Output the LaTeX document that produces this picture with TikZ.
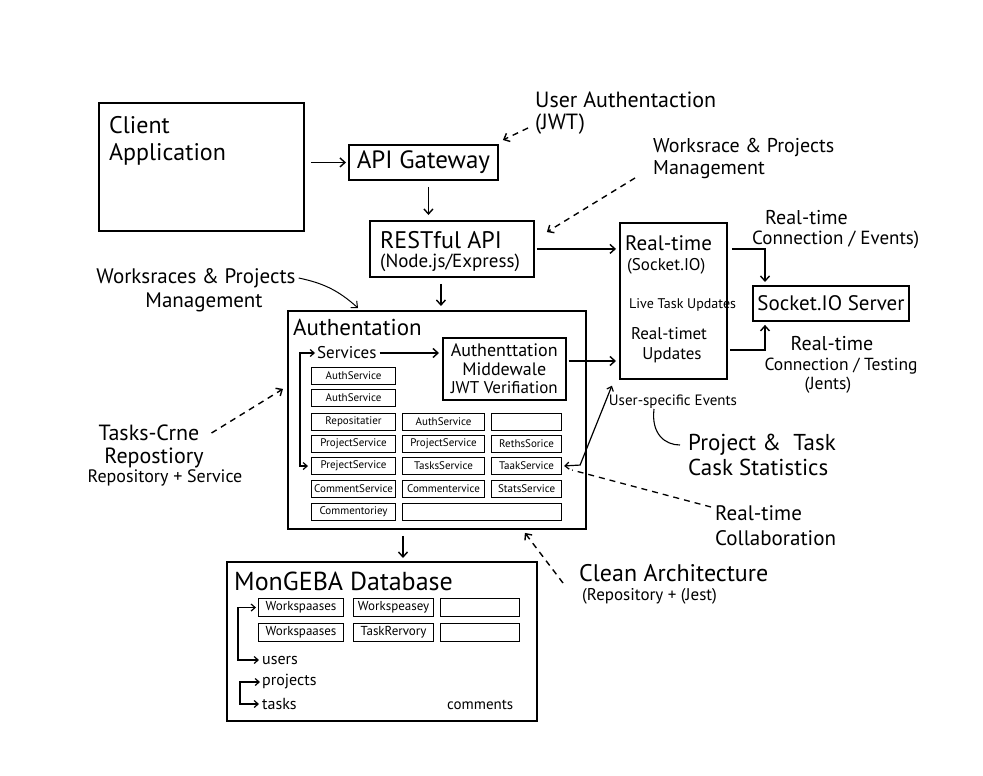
\documentclass[tikz,border=0pt]{standalone}
\usepackage{fontspec}
\setmainfont{PT Sans}
\usetikzlibrary{arrows.meta}
\newcommand\fsz[2]{\fontsize{#1}{#2}\selectfont}
\begin{document}
\begin{tikzpicture}[x=1pt,y=-1pt,
 box/.style={draw,line width=1.9pt,rectangle,inner sep=0pt,anchor=north west},
 sbox/.style={draw,line width=1.1pt,rectangle,inner sep=0pt,anchor=north west,minimum height=17pt,font=\fsz{11}{13}},
 dbox/.style={sbox,minimum height=18pt,font=\fsz{13}{15}},
 arr/.style={line width=1.4pt,-{Straight Barb[length=5pt,width=9pt]}},
 barr/.style={line width=1.2pt,{Straight Barb[length=4pt,width=7pt]}-{Straight Barb[length=4pt,width=7pt]},shorten <=2pt,shorten >=3pt},
 darr/.style={arr,dash pattern=on 6pt off 5pt},
 dline/.style={line width=1.3pt,dash pattern=on 6pt off 5pt},
 lbl/.style={inner sep=0pt,anchor=west},
 ctr/.style={inner sep=0pt,anchor=center},
]
\useasboundingbox[fill=white] (0,0) rectangle (983,776);

% main boxes
\node[box,minimum width=205pt,minimum height=128pt] (client) at (98,102) {};
\node[lbl,font=\fsz{24}{28}] (clientt1) at (109,125) {Client};
\node[lbl,font=\fsz{24}{28}] (clientt2) at (109,154) {Application};
\node[box,minimum width=149pt,minimum height=35pt,font=\fsz{25}{28}] (api) at (348,144) {API Gateway};
\node[box,minimum width=164pt,minimum height=56pt] (rest) at (369,220) {};
\node[lbl,font=\fsz{24}{28}] (restt1) at (380,240) {RESTful API};
\node[lbl,font=\fsz{19}{22}] (restt2) at (380,263) {(Node.js/Express)};
\node[box,minimum width=107pt,minimum height=156pt] (rt) at (619,222) {};
\node[lbl,font=\fsz{21}{24}] (rtt) at (625,243) {Real-time};
\node[lbl,font=\fsz{17}{20}] (rts) at (627,266) {(Socket.IO)};
\node[lbl,font=\fsz{14}{16}] (ltu) at (629,305) {Live Task Updates};
\node[ctr,font=\fsz{17}{20}] (rtu1) at (669,334) {Real-timet};
\node[ctr,font=\fsz{17}{20}] (rtu2) at (672,355) {Updates};
\node[box,minimum width=156pt,minimum height=35pt,font=\fsz{21}{24}] (sock) at (752,285) {Socket.IO Server};

% authentation block
\node[box,minimum width=298pt,minimum height=218pt] (auth) at (287,310) {};
\node[lbl,font=\fsz{23}{26}] (autht) at (293,327) {Authentation};
\node[lbl,font=\fsz{17}{19}] (serv) at (317,353) {Services};
\node[box,line width=1.5pt,minimum width=123pt,minimum height=62pt] (mw) at (442,337) {};
\node[ctr,font=\fsz{18}{20}] (mw1) at (mw.center |- 0,350) {Authenttation};
\node[ctr,font=\fsz{18}{20}] (mw2) at (mw.center |- 0,369) {Middewale};
\node[ctr,font=\fsz{17}{20}] (mw3) at (mw.center |- 0,388) {JWT Verifiation};
\node[sbox,minimum width=84pt] (s11) at (311,367) {AuthService};
\node[sbox,minimum width=84pt] (s21) at (311,389) {AuthService};
\node[sbox,minimum width=84pt] (s31) at (311,413) {Repositatier};
\node[sbox,minimum width=82pt] (s32) at (402,413) {AuthService};
\node[sbox,minimum width=70pt] (s33) at (491,413) {};
\node[sbox,minimum width=84pt] (s41) at (311,435) {ProjectService};
\node[sbox,minimum width=82pt] (s42) at (402,435) {ProjectService};
\node[sbox,minimum width=70pt] (s43) at (491,435) {RethsSorice};
\node[sbox,minimum width=84pt] (s51) at (311,457) {PrejectService};
\node[sbox,minimum width=82pt] (s52) at (402,457) {TasksService};
\node[sbox,minimum width=70pt] (s53) at (491,457) {TaakService};
\node[sbox,minimum width=84pt] (s61) at (311,480) {CommentService};
\node[sbox,minimum width=82pt] (s62) at (402,480) {Commentervice};
\node[sbox,minimum width=70pt] (s63) at (491,480) {StatsService};
\node[sbox,minimum width=84pt] (s71) at (311,503) {Commentoriey};
\node[sbox,minimum width=159pt] (s72) at (402,503) {};

% database
\node[box,minimum width=310pt,minimum height=159pt] (db) at (226,561) {};
\node[lbl,font=\fsz{26}{30}] (dbt) at (234,581) {MonGEBA Database};
\node[dbox,minimum width=85pt] (d11) at (258,598) {Workspaases};
\node[dbox,minimum width=80pt] (d12) at (353,598) {Workspeasey};
\node[dbox,minimum width=79pt] (d13) at (440,598) {};
\node[dbox,minimum width=85pt] (d21) at (258,623) {Workspaases};
\node[dbox,minimum width=80pt] (d22) at (353,623) {TaskRervory};
\node[dbox,minimum width=79pt] (d23) at (440,623) {};
\node[lbl,font=\fsz{16}{18}] (users) at (262,660) {users};
\node[lbl,font=\fsz{16}{18}] (projects) at (262,682) {projects};
\node[lbl,font=\fsz{16}{18}] (tasks) at (262,704) {tasks};
\node[lbl,font=\fsz{15}{17}] (comments) at (447,705) {comments};

% labels
\node[lbl,font=\fsz{22}{25}] (ua1) at (535,100) {User Authentaction};
\node[lbl,font=\fsz{22}{25}] (ua2) at (535,124) {(JWT)};
\node[lbl,font=\fsz{20}{25}] (wp1a) at (653,147) {Worksrace \& Projects};
\node[lbl,font=\fsz{20}{25}] (wp1b) at (653,170) {Management};
\node[ctr,font=\fsz{21}{25}] (wp2a) at (196,278) {Worksraces \& Projects};
\node[ctr,font=\fsz{21}{25}] (wp2b) at (204,302) {Management};
\node[ctr,font=\fsz{22}{26}] (tc1) at (149,433) {Tasks-Crne};
\node[ctr,font=\fsz{22}{26}] (tc2) at (154,458) {Repostiory};
\node[ctr,font=\fsz{18}{20}] (tc3) at (165,478) {Repository + Service};
\node[ctr,font=\fsz{15}{17}] (use) at (673,402) {User-specific Events};
\node[lbl,font=\fsz{23}{25}] (pts1) at (688,445) {Project \&\ \ Task};
\node[lbl,font=\fsz{23}{25}] (pts2) at (688,467) {Cask Statistics};
\node[lbl,font=\fsz{21}{25}] (rtc1) at (715,513) {Real-time};
\node[lbl,font=\fsz{21}{25}] (rtc2) at (715,538) {Collaboration};
\node[lbl,font=\fsz{24}{26}] (ca1) at (579,573) {Clean Architecture};
\node[lbl,font=\fsz{17}{20}] (ca2) at (582,596) {(Repository + (Jest)};
\node[lbl,font=\fsz{20}{22}] (rc1) at (765,218) {Real-time};
\node[lbl,font=\fsz{19}{22}] (rc2) at (752,240) {Connection / Events)};
\node[ctr,font=\fsz{20}{22}] (rc3) at (832,344) {Real-time};
\node[ctr,font=\fsz{17.5}{20}] (rc4) at (841,366) {Connection / Testing};
\node[ctr,font=\fsz{17.5}{20}] (rc5) at (828,385) {(Jents)};

% connectors
\draw[arr,shorten <=6pt,shorten >=2pt] (client.east |- api.west) -- (api.west);
\draw[arr,shorten <=6pt,shorten >=5pt] ([xshift=5pt]api.south) -- ([xshift=5pt]api.south |- rest.north);
\draw[arr,shorten <=6pt,shorten >=4pt] ([xshift=-11pt]rest.south) -- ([xshift=-11pt]rest.south |- auth.north);
\coordinate (adx) at (403,0);
\draw[arr,shorten <=6pt,shorten >=3pt] (auth.south -| adx) -- (db.north -| adx);
\draw[arr,shorten <=2pt,shorten >=3pt] (rest.east) -- (rest.east -| rt.west);
\draw[arr,shorten <=3pt,shorten >=3pt] (serv.east) -- (serv.east -| mw.west);
\coordinate (mwy) at (0,361);
\draw[arr,shorten <=2pt,shorten >=3pt] (mw.east |- mwy) -- (mwy -| rt.west);
\coordinate (sx) at (765,0);
\draw[arr,shorten <=4pt,shorten >=3pt] (rest.east -| rt.east) -| (sx |- sock.north);
\coordinate (rtB) at (726,350);
\draw[arr,shorten <=4pt,shorten >=3pt] (rtB) -| (sx |- sock.south);
\draw[barr] (s53.east) -- ++(18,-1) -- ([xshift=-6pt,yshift=-3pt]rt.south west);
\draw[barr] (d11.west) -- ++(-20,0) |- (users.west);
\draw[barr] (projects.west) -- ++(-22,0) |- (tasks.west);
\draw[barr] (serv.west) -- ++(-17,0) |- (s51.west);

\draw[darr] ([xshift=-7pt,yshift=-4pt]ua2.west) -- ([xshift=4pt,yshift=4pt]api.north east);
\draw[darr] ([xshift=-18pt,yshift=-8pt]wp1b.west) -- ([xshift=12pt,yshift=-12pt]rest.north east);
\draw[arr,line width=1pt] ([xshift=3pt]wp2a.east) to[bend left=15] ([xshift=71pt,yshift=2pt]auth.north west);
\draw[darr] ([xshift=12pt]tc1.east) -- ([xshift=-4pt,yshift=31pt]auth.west);
\draw[line width=1.1pt] ([xshift=-19pt]use.south) .. controls +(-3,25) and +(-15,0) .. ([xshift=-8pt]pts1.west);
\draw[dline] ([xshift=-4pt,yshift=6pt]rtc1.west) -- ([xshift=10pt,yshift=-4pt]s53.east);
\draw[darr] ([xshift=-16pt,yshift=-10pt]ca1.west) -- ([xshift=-62pt,yshift=-3pt]auth.south east);
\end{tikzpicture}
\end{document}
